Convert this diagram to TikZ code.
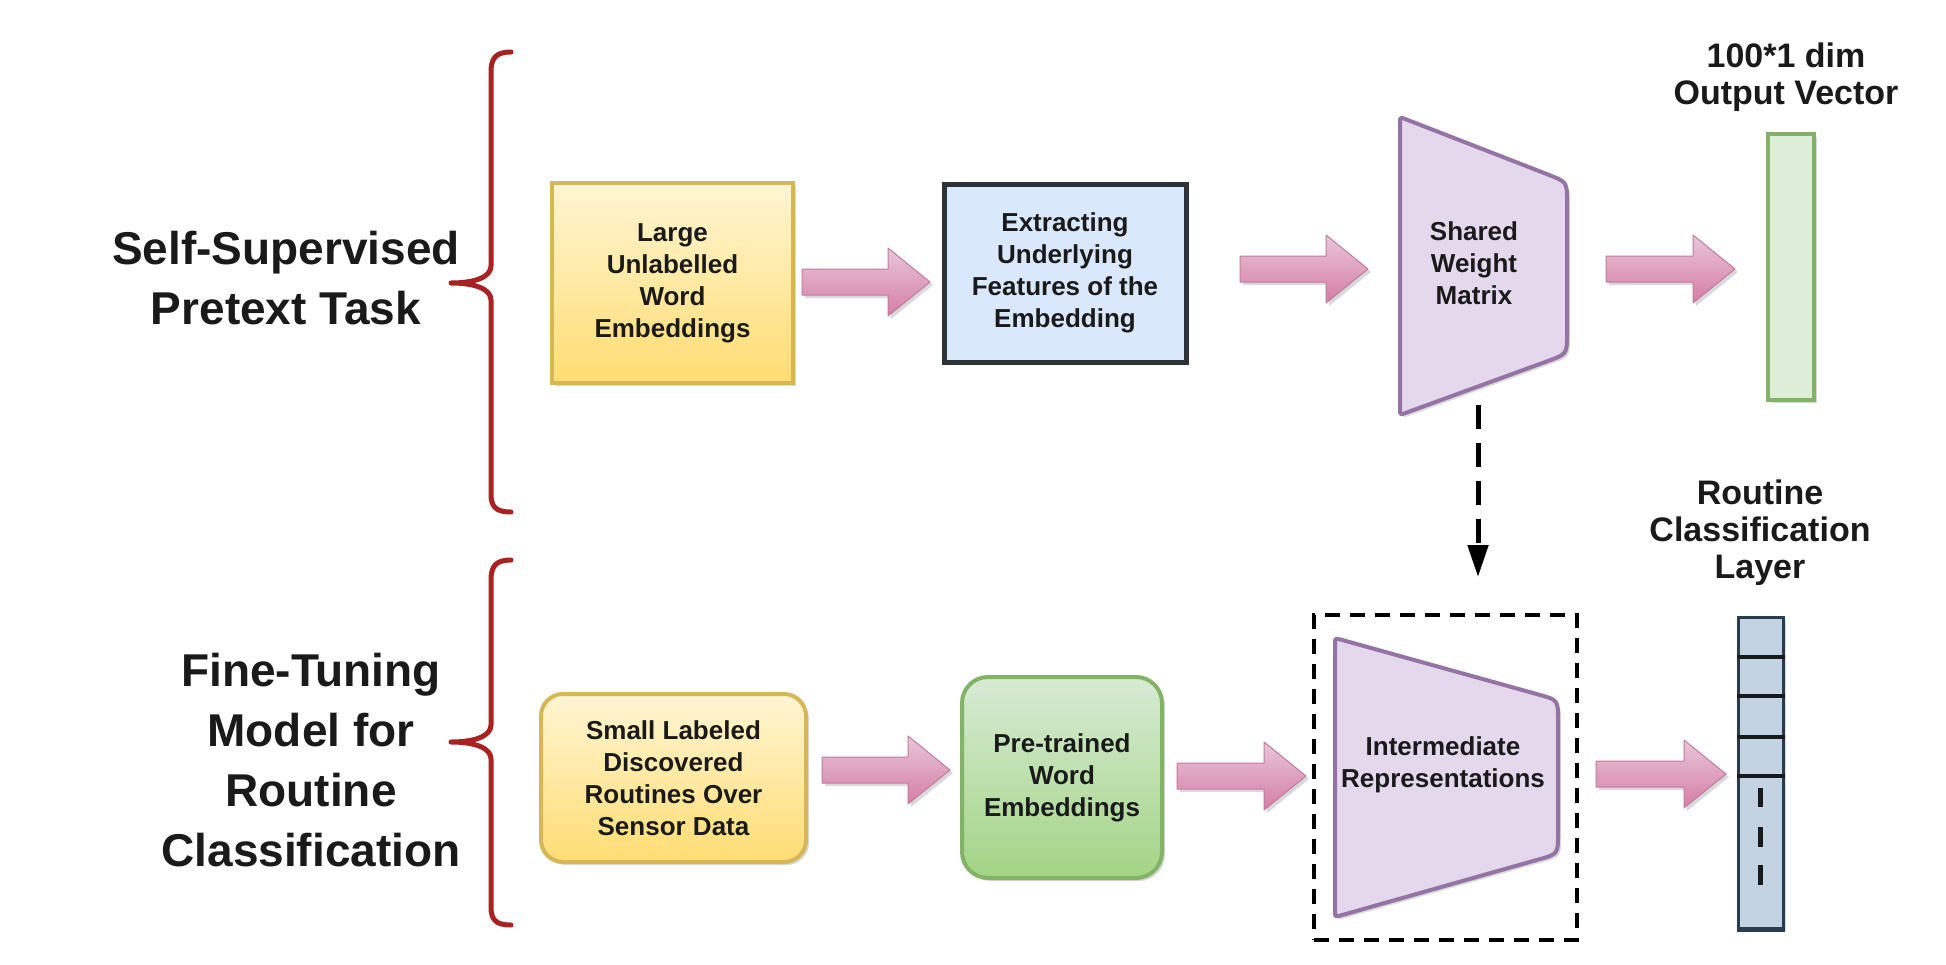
\documentclass[tikz,border=0pt]{standalone}
\usepackage{fontspec}
\setmainfont{Liberation Sans}
\usetikzlibrary{arrows.meta,shadows,calc}
\definecolor{ylwA}{HTML}{FFF5D3}
\definecolor{ylwB}{HTML}{FFDD73}
\definecolor{ylwS}{HTML}{D6B656}
\definecolor{bluF}{HTML}{DAE8FC}
\definecolor{bluS}{HTML}{2E3338}
\definecolor{grnA}{HTML}{D8EBD5}
\definecolor{grnB}{HTML}{A2D485}
\definecolor{grnS}{HTML}{82B366}
\definecolor{grnF}{HTML}{DDEDD7}
\definecolor{purF}{HTML}{E4D9EC}
\definecolor{purS}{HTML}{9673A6}
\definecolor{pnkA}{HTML}{E9C6D8}
\definecolor{pnkB}{HTML}{D57DA6}
\definecolor{pnkS}{HTML}{C27A9F}
\definecolor{barF}{HTML}{C4D3E1}
\definecolor{barS}{HTML}{2A3D4E}
\definecolor{brc}{HTML}{A82222}
\definecolor{txt}{HTML}{1A1A1A}
\newcommand\pinkarrow[3]{%
  \fill[black,opacity=0.15] ({#1+3},{#3-10}) -- ({#2-39},{#3-10}) -- ({#2-39},{#3-31}) -- ({#2+3},{#3+3}) -- ({#2-39},{#3+37}) -- ({#2-39},{#3+16}) -- ({#1+3},{#3+16}) -- cycle;
  \shade[top color=pnkA,bottom color=pnkB,draw=pnkS,line width=1pt,line join=round] (#1,{#3-13}) -- ({#2-42},{#3-13}) -- ({#2-42},{#3-34}) -- (#2,#3) -- ({#2-42},{#3+34}) -- ({#2-42},{#3+13}) -- (#1,{#3+13}) -- cycle;}
\tikzset{
  boxtext/.style={font=\fontsize{26}{32}\selectfont\bfseries, text=txt, align=center, inner sep=0pt},
  shad/.style={general shadow={fill=black, opacity=0.15, shadow xshift=3pt, shadow yshift=-3pt}},
  sidelbl/.style={font=\fontsize{46}{60}\selectfont\bfseries, text=txt, align=center},
  toplbl/.style={font=\fontsize{34}{37}\selectfont\bfseries, text=txt, align=center},
  bracestyle/.style={brc, line width=5pt, line cap=round, line join=round},
}
\begin{document}
\begin{tikzpicture}[x=1pt,y=-1pt]
\useasboundingbox (0,0) rectangle (1946,964);
\fill[white] (0,0) rectangle (1946,964);

% braces
\draw[bracestyle] (511,52) .. controls (496,52) and (491,58) .. (491,72) -- (491,266) .. controls (491,277) and (475,283) .. (451,283) .. controls (475,283) and (491,289) .. (491,300) -- (491,494) .. controls (491,507) and (496,512) .. (511,512);
\draw[bracestyle] (511,560) .. controls (496,560) and (491,566) .. (491,580) -- (491,725) .. controls (491,736) and (475,742) .. (451,742) .. controls (475,742) and (491,748) .. (491,759) -- (491,907) .. controls (491,920) and (496,925) .. (511,925);

% side labels
\node[sidelbl] (ssl) at (286,278) {Self-Supervised\\Pretext Task};
\node[sidelbl] (ftm) at (311,760) {Fine-Tuning\\Model for\\Routine\\Classification};

% top row
\node[shad, draw=ylwS, line width=4pt, top color=ylwA, bottom color=ylwB, minimum width=241pt, minimum height=200pt, boxtext] (ylarge) at (672.5,283) {Large\\Unlabelled\\Word\\Embeddings};
\node[shad, draw=bluS, line width=5pt, fill=bluF, minimum width=242pt, minimum height=178pt, boxtext] (extract) at (1065,273) {Extracting\\Underlying\\Features of the\\Embedding};

\fill[black,opacity=0.15,shift={(3,3)}] (1405.6,119.2) -- (1548.4,174.7) .. controls (1567,182) .. (1567,202) -- (1567,334) .. controls (1567,354) .. (1548.2,360.9) -- (1405.6,412.9) .. controls (1400,415) .. (1400,409) -- (1400,123) .. controls (1400,117) .. (1405.6,119.2) -- cycle;
\draw[fill=purF, draw=purS, line width=4pt, line join=round] (1405.6,119.2) -- (1548.4,174.7) .. controls (1567,182) .. (1567,202) -- (1567,334) .. controls (1567,354) .. (1548.2,360.9) -- (1405.6,412.9) .. controls (1400,415) .. (1400,409) -- (1400,123) .. controls (1400,117) .. (1405.6,119.2) -- cycle;
\node[boxtext] (shared) at (1474,263) {Shared\\Weight\\Matrix};

\node[shad, draw=grnS, fill=grnF, line width=4pt, minimum width=46pt, minimum height=266pt, inner sep=0pt] (outvec) at (1791,267) {};
\node[toplbl] (outlbl) at (1786,77.5) {100*1 dim\\Output Vector};

% bottom row
\node[shad, draw=ylwS, line width=4pt, rounded corners=22pt, top color=ylwA, bottom color=ylwB, minimum width=265pt, minimum height=168pt, boxtext] (ysmall) at (673.5,778) {Small Labeled\\Discovered\\Routines Over\\Sensor Data};
\node[shad, draw=grnS, line width=4pt, rounded corners=26pt, top color=grnA, bottom color=grnB, minimum width=200pt, minimum height=201pt, boxtext] (pretr) at (1062,777.5) {Pre-trained\\Word\\Embeddings};

\fill[black,opacity=0.15,shift={(3,3)}] (1340.8,639.6) -- (1538.7,694.6) .. controls (1558,700) .. (1558,720) -- (1558,834) .. controls (1558,854) .. (1538.8,859.4) -- (1340.8,915.4) .. controls (1335,917) .. (1335,911) -- (1335,644) .. controls (1335,638) .. (1340.8,639.6) -- cycle;
\draw[fill=purF, draw=purS, line width=4pt, line join=round] (1340.8,639.6) -- (1538.7,694.6) .. controls (1558,700) .. (1558,720) -- (1558,834) .. controls (1558,854) .. (1538.8,859.4) -- (1340.8,915.4) .. controls (1335,917) .. (1335,911) -- (1335,644) .. controls (1335,638) .. (1340.8,639.6) -- cycle;
\node[boxtext] (inter) at (1443,765) {Intermediate\\Representations};
\node[draw=black, line width=4pt, dash pattern=on 15pt off 10pt, minimum width=263pt, minimum height=325pt, inner sep=0pt] (dbox) at (1445.5,777.5) {};

\node[shad, draw=barS, fill=barF, line width=3pt, minimum width=45pt, minimum height=311pt, inner sep=0pt] (clsbar) at (1760.5,772.5) {};
\foreach \yy in {657,696,737,776} \draw[line width=4pt, txt] (clsbar.west |- 0,\yy) -- (clsbar.east |- 0,\yy);
\draw[line width=5pt, barS] (clsbar.south west) -- (clsbar.south east);
\foreach \ya/\yb in {788/807,827/847,865/885} \draw[line width=5pt, txt] (clsbar.center |- 0,\ya) -- (clsbar.center |- 0,\yb);
\node[toplbl] (clslbl) at (1760,533) {Routine\\Classification\\Layer};

% pink block arrows
\pinkarrow{802}{930}{282}
\pinkarrow{1240}{1368}{269}
\pinkarrow{1606}{1735}{269}
\pinkarrow{822}{950}{770}
\pinkarrow{1177}{1306}{776}
\pinkarrow{1596}{1726}{774}

% dashed transfer arrow
\coordinate (dstart) at (1478,405);
\coordinate (dend) at (1478,577);
\draw[line width=5pt, dash pattern=on 24pt off 14pt, -{Triangle[length=32pt,width=20pt]}] (dstart) -- (dend);
\end{tikzpicture}
\end{document}
